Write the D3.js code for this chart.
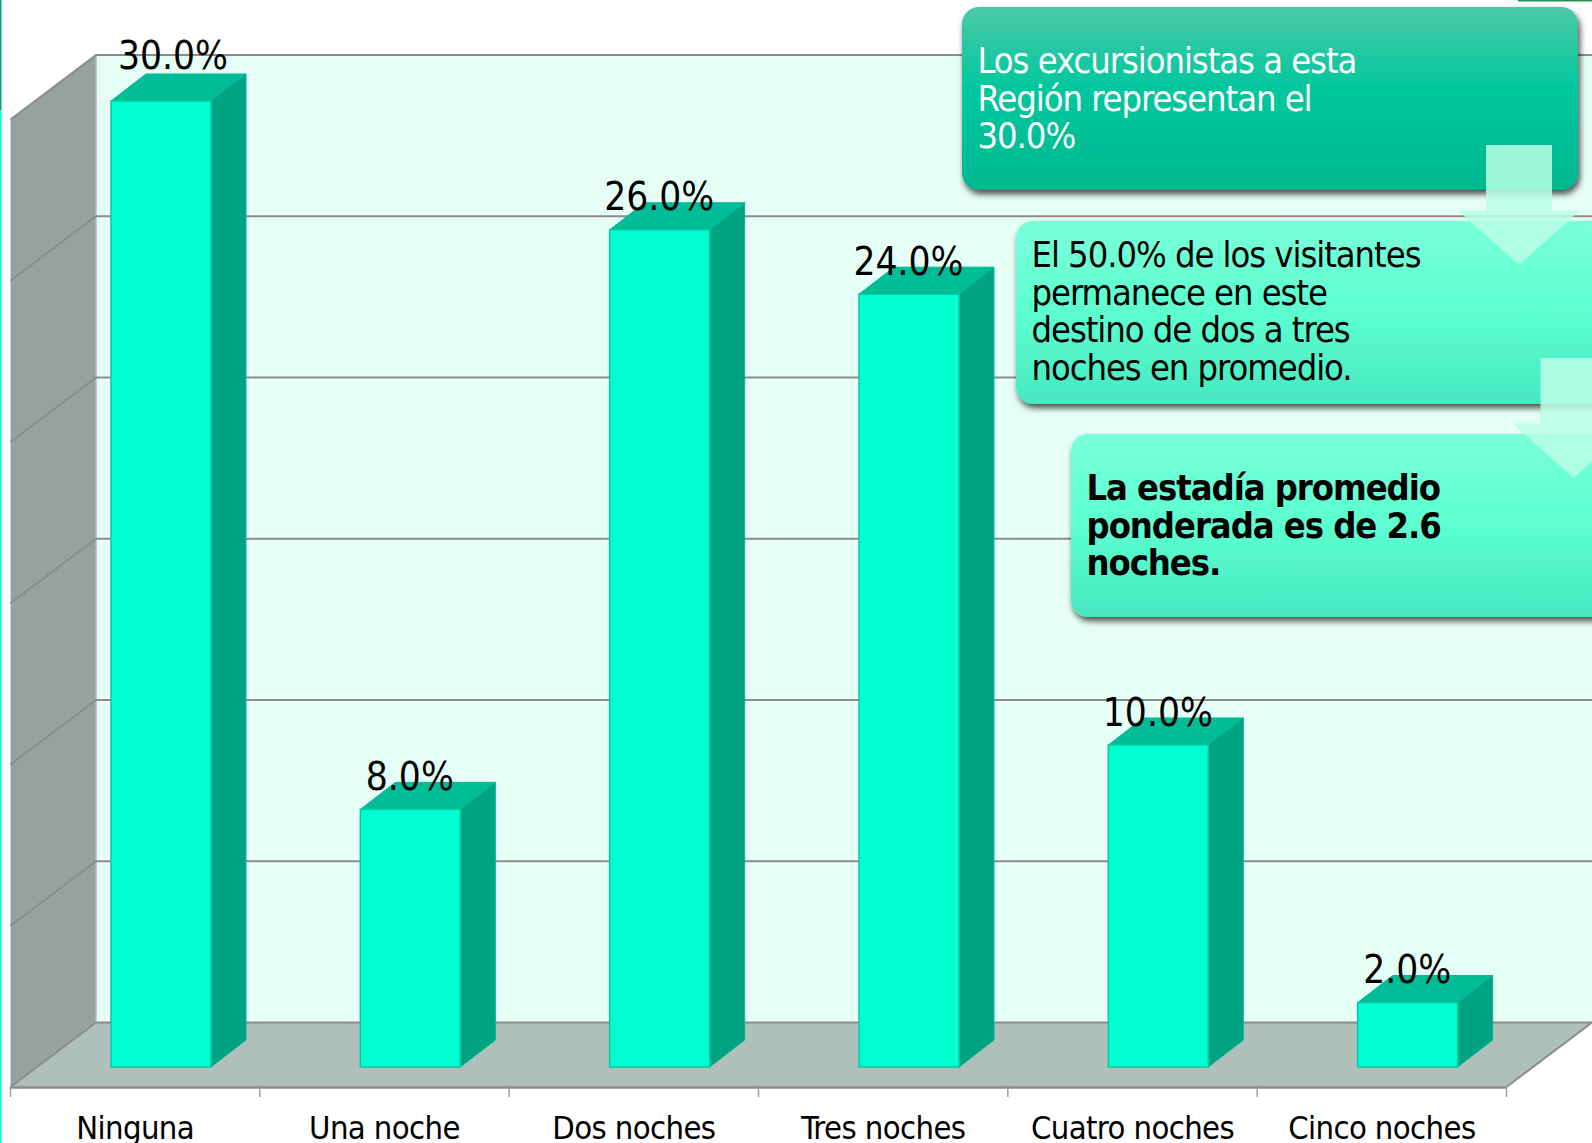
<!DOCTYPE html>
<html>
<head>
<meta charset="utf-8">
<script src="https://cdn.jsdelivr.net/npm/d3@7"></script>
<style>
  html, body { margin: 0; padding: 0; background: #fff; overflow: hidden; }
  svg { display: block; }
  text { font-family: "DejaVu Sans Condensed", "DejaVu Sans", sans-serif; font-stretch: condensed; }
</style>
</head>
<body>
<svg></svg>
<script>
const categories = ['Ninguna', 'Una noche', 'Dos noches', 'Tres noches', 'Cuatro noches', 'Cinco noches'];
const values = [30, 8, 26, 24, 10, 2];
const yTicks = [0, 5, 10, 15, 20, 25, 30];
const note1 = ['Los excursionistas a esta', 'Región representan el', '30.0%'];
const note2 = ['El 50.0% de los visitantes', 'permanece en este', 'destino de dos a tres', 'noches en promedio.'];
const note3 = ['La estadía promedio', 'ponderada es de 2.6', 'noches.'];

const [svgWidth, svgHeight] = [1592, 1143];
const svg = d3.select('svg')
  .attr('width', svgWidth)
  .attr('height', svgHeight);

const defs = svg.append('defs');
const addGradient = (id, stops) => {
  const g = defs.append('linearGradient')
    .attr('id', id)
    .attr('x1', 0).attr('y1', 0)
    .attr('x2', 0).attr('y2', 1);
  stops.forEach(s => g.append('stop').attr('offset', s[0]).attr('stop-color', s[1]));
};
addGradient('dark', [[0, '#4cc9a7'], [0.45, '#00c79d'], [1, '#00b890']]);
addGradient('light', [[0, '#7affd9'], [0.5, '#5cffd0'], [1, '#47e8c0']]);
const shadow = defs.append('filter')
  .attr('id', 'shadow')
  .attr('x', '-5%').attr('y', '-5%')
  .attr('width', '110%').attr('height', '115%');
shadow.append('feDropShadow')
  .attr('dx', 2).attr('dy', 4)
  .attr('stdDeviation', 3)
  .attr('flood-color', '#000')
  .attr('flood-opacity', 0.7);

// 3d depth of the chart box and of the bars
const [wallDx, wallDy] = [85.5, -64.5];
const [barDx, barDy] = [35, -27];
const [frontLeft, frontRight, frontY] = [10.5, 1506.5, 1087];
const backLeft = frontLeft + wallDx;
const backY = frontY + wallDy;
const barOffset = 100.5;
const barWidth = 100;

const x = d3.scaleBand().domain(categories).range([frontLeft, frontRight]);
const yWall = d3.scaleLinear().domain([0, 30]).range([backY, 55]);
const yBar = d3.scaleLinear().domain([0, 30]).range([1067, 101]);
const poly = pts => pts.map(p => p.join(',')).join(' ');

// page edge strips
svg.append('rect').attr('x', 0).attr('y', 0).attr('width', 1.5).attr('height', 110).attr('fill', '#00a583');
svg.append('rect').attr('x', 0).attr('y', 110).attr('width', 1.5).attr('height', svgHeight - 110).attr('fill', '#00ffd5');
svg.append('rect').attr('x', 1518).attr('y', 0).attr('width', 74).attr('height', 1.5).attr('fill', '#2e8b57');

// walls and floor
svg.append('rect')
  .attr('x', backLeft).attr('y', yWall(30))
  .attr('width', svgWidth - backLeft).attr('height', backY - yWall(30))
  .attr('fill', '#e6fff6');
svg.append('polygon')
  .attr('points', poly([[frontLeft, frontY], [backLeft, backY], [backLeft, yWall(30)], [frontLeft, yWall(30) - wallDy]]))
  .attr('fill', '#95a39c');
svg.append('polygon')
  .attr('points', poly([[frontLeft, frontY], [backLeft, backY], [svgWidth, backY], [frontRight, frontY]]))
  .attr('fill', '#afc0ba');
svg.append('line')
  .attr('x1', backLeft).attr('x2', backLeft)
  .attr('y1', yWall(30)).attr('y2', backY)
  .attr('stroke', '#b4bdb9').attr('stroke-width', 1.5);

// gridlines, back wall + left wall
const grid = svg.append('g').attr('fill', 'none').attr('stroke', '#8c8c8c').attr('stroke-width', 2);
grid.selectAll('polyline')
  .data(yTicks)
  .enter()
  .append('polyline')
  .attr('points', d => poly([[frontLeft, yWall(d) - wallDy], [backLeft, yWall(d)], [svgWidth, yWall(d)]]));

// right edge of the floor and x axis
grid.append('line')
  .attr('x1', frontRight).attr('y1', frontY)
  .attr('x2', svgWidth).attr('y2', backY);
const axis = svg.append('g')
  .attr('transform', `translate(0, ${frontY})`)
  .call(d3.axisBottom(x).tickSize(0).tickPadding(29));
axis.select('.domain').attr('stroke', '#8c8c8c').attr('stroke-width', 2.4);
axis.selectAll('text')
  .attr('fill', '#000')
  .style('font-size', '32.5px')
  .style('letter-spacing', '-0.6px');
axis.selectAll('line.edge')
  .data(d3.range(categories.length + 1))
  .enter()
  .append('line')
  .attr('class', 'edge')
  .attr('x1', d => frontLeft + d * x.step())
  .attr('x2', d => frontLeft + d * x.step())
  .attr('y1', 0).attr('y2', 10)
  .attr('stroke', '#a0a0a0').attr('stroke-width', 1.5);

// bars
const bar = svg.append('g')
  .selectAll('g')
  .data(values)
  .enter()
  .append('g')
  .attr('transform', (d, i) => `translate(${x(categories[i]) + barOffset}, 0)`);
bar.append('polygon')
  .attr('points', d => poly([[barWidth, yBar(d)], [barWidth + barDx, yBar(d) + barDy], [barWidth + barDx, yBar(0) + barDy], [barWidth, yBar(0)]]))
  .attr('fill', '#00a381')
  .attr('stroke', '#00b592');
bar.append('polygon')
  .attr('points', d => poly([[0, yBar(d)], [barDx, yBar(d) + barDy], [barWidth + barDx, yBar(d) + barDy], [barWidth, yBar(d)]]))
  .attr('fill', '#00bd98')
  .attr('stroke', '#00b592');
bar.append('rect')
  .attr('y', d => yBar(d))
  .attr('width', barWidth)
  .attr('height', d => yBar(0) - yBar(d))
  .attr('fill', '#00ffd0')
  .attr('stroke', '#00cba3')
  .attr('stroke-width', 1.5);
bar.append('text')
  .attr('x', (d, i) => barWidth / 2 + (i === 0 ? 12 : -0.5))
  .attr('y', (d, i) => yBar(d) - (i === 0 ? 32.5 : 19.5))
  .attr('text-anchor', 'middle')
  .attr('font-size', 38.5)
  .attr('fill', '#000')
  .text(d => d3.format('.1f')(d) + '%');

// notes
const note = (bx, by, bw, grad, lines, firstBase, color, weight) => {
  const g = svg.append('g');
  g.append('rect')
    .attr('x', bx).attr('y', by)
    .attr('width', bw).attr('height', 183)
    .attr('rx', 17)
    .attr('fill', `url(#${grad})`)
    .attr('filter', 'url(#shadow)');
  g.append('g')
    .selectAll('text')
    .data(lines)
    .enter()
    .append('text')
    .attr('x', bx + 15.5)
    .attr('y', (d, i) => firstBase + i * 37.5)
    .attr('font-size', 36)
    .attr('font-weight', weight)
    .attr('fill', color)
    .style('letter-spacing', '-1.05px')
    .text(d => d);
};
const arrow = (cx, top) => {
  svg.append('polygon')
    .attr('points', poly([
      [cx - 33, top], [cx + 33, top], [cx + 33, top + 65.5], [cx + 61, top + 65.5],
      [cx, top + 120], [cx - 61, top + 65.5], [cx - 33, top + 65.5]
    ]))
    .attr('fill', '#b8ffe6')
    .attr('fill-opacity', 0.85);
};
note(962, 7, 616, 'dark', note1, 73, '#fff', 'normal');
note(1016, 221, 620, 'light', note2, 267, '#000', 'normal');
arrow(1519, 145);
note(1071, 434, 570, 'light', note3, 500, '#000', 'bold');
arrow(1573.5, 358);
</script>
</body>
</html>
